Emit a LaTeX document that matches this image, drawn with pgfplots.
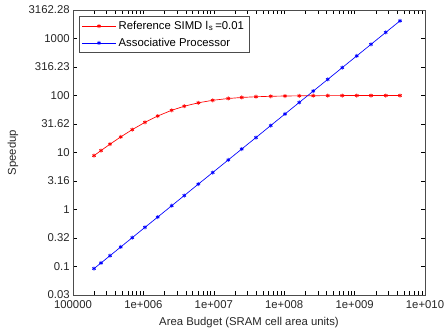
\documentclass[border=0pt]{standalone}
\usepackage{fontspec}
\setmainfont{Liberation Sans}
\usepackage{pgfplots}
\pgfplotsset{compat=1.18}

\begin{document}
\begin{tikzpicture}
\begin{axis}[
  scale only axis,
  width=264pt, height=213.75pt,
  xmode=log, ymode=log,
  xmin=1e5, xmax=1e10,
  ymin=0.0316228, ymax=3162.28,
  xtick={1e5,1e6,1e7,1e8,1e9,1e10},
  xticklabels={100000,1e+006,1e+007,1e+008,1e+009,1e+010},
  ytick={0.0316228,0.1,0.316228,1,3.16228,10,31.6228,100,316.228,1000,3162.28},
  yticklabels={0.03,0.1,0.32,1,3.16,10,31.62,100,316.23,1000,3162.28},
  minor xtick={}, minor ytick={},
  tick align=inside,
  major tick length=3pt,
  tick style={black, line width=0.4pt},
  axis line style={line width=0.5pt, black!70},
  ticklabel style={font=\fontsize{8.5}{10}\selectfont, text=black!85},
  xticklabel style={yshift=-0.5pt},
  yticklabel style={xshift=1pt},
  xlabel={Area Budget (SRAM cell area units)},
  ylabel={Speedup},
  label style={font=\fontsize{8.5}{10}\selectfont, text=black!85},
  xlabel style={yshift=0pt},
  ylabel style={yshift=1pt},
  legend cell align=left,
  legend style={
    at={(0,1)}, anchor=north west, xshift=4.5pt, yshift=-4.5pt,
    font=\fontsize{8.5}{10}\selectfont,
    draw=black!70, line width=0.5pt,
    inner xsep=2pt, inner ysep=1.5pt,
    row sep=1pt,
  },
  legend image code/.code={
    \draw[mark repeat=2,mark phase=2] plot coordinates {(0pt,0pt) (12.5pt,0pt) (25pt,0pt)};
  },
]
\coordinate (bl) at (rel axis cs:0,0);
\coordinate (tr) at (rel axis cs:1,1);

% Amdahl-limited reference SIMD machine, serial fraction 0.01
\addplot[red, line width=0.5pt, mark=asterisk, mark size=1.5pt, mark options={line width=0.6pt}]
coordinates {
(1.99e5,8.82) (2.50e5,10.82) (3.36e5,14.02) (4.76e5,18.77) (6.95e5,25.23)
(1.054e6,33.86) (1.596e6,43.66) (2.52e6,55.04) (3.81e6,64.9) (6.03e6,74.5)
(9.64e6,82.4) (1.607e7,88.6) (2.49e7,92.4) (3.97e7,95.1) (6.43e7,96.9)
(1.026e8,98.0) (1.637e8,98.75) (2.59e8,99.21) (4.15e8,99.5) (6.68e8,99.7)
(1.072e9,99.81) (1.710e9,99.88) (2.77e9,99.93) (4.42e9,99.95)
};
\addlegendentry{Reference SIMD l\textsubscript{\kern0.5pt s}\,=0.01}

% Associative processor scales linearly with area
\addplot[blue, line width=0.5pt, mark=asterisk, mark size=1.5pt, mark options={line width=0.6pt}]
coordinates {
(1.99e5,0.092) (2.50e5,0.1155) (3.36e5,0.155) (4.76e5,0.220) (6.95e5,0.321)
(1.054e6,0.487) (1.596e6,0.737) (2.52e6,1.164) (3.81e6,1.76) (6.03e6,2.79)
(9.64e6,4.45) (1.607e7,7.42) (2.49e7,11.5) (3.97e7,18.3) (6.43e7,29.7)
(1.026e8,47.4) (1.637e8,75.6) (2.59e8,119.7) (4.15e8,191.7) (6.68e8,308.6)
(1.072e9,495) (1.710e9,790) (2.77e9,1280) (4.42e9,2042)
};
\addlegendentry{Associative Processor}
\end{axis}
\pgfresetboundingbox
\path[use as bounding box] ([shift={(-54.75pt,-28.5pt)}]bl) rectangle ([shift={(15pt,7.5pt)}]tr);
\end{tikzpicture}
\end{document}
